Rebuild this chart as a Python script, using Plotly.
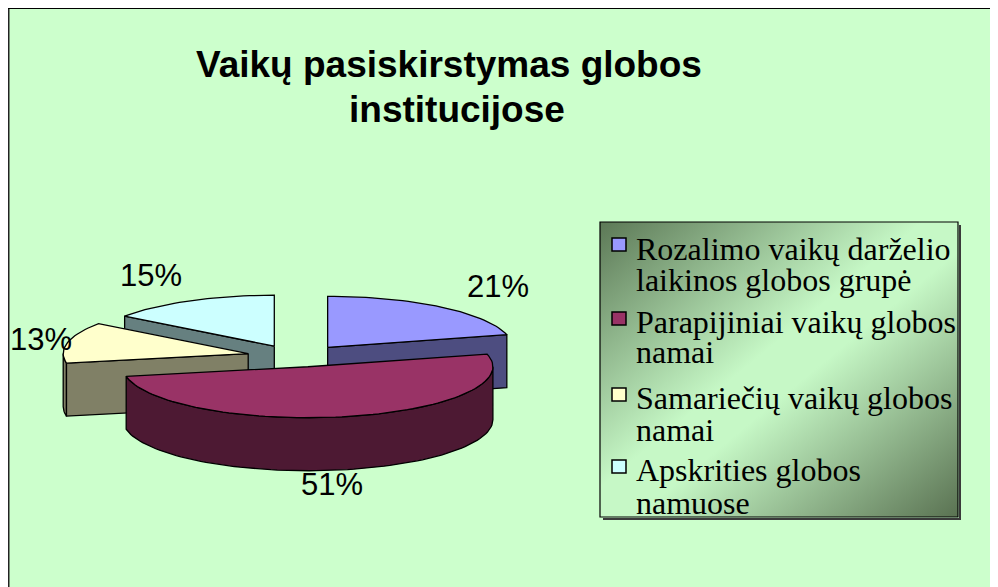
import math
import base64
import plotly.graph_objects as go

# ---------------- data ----------------
categories = [
    "Rozalimo vaikų darželio laikinos globos grupė",
    "Parapijiniai vaikų globos namai",
    "Samariečių vaikų globos namai",
    "Apskrities globos namuose",
]
legend_lines = [
    ["Rozalimo vaikų darželio", "laikinos globos grupė"],
    ["Parapijiniai vaikų globos", "namai"],
    ["Samariečių vaikų globos", "namai"],
    ["Apskrities globos", "namuose"],
]
values = [21, 51, 13, 15]
title_lines = ["Vaikų pasiskirstymas globos", "institucijose"]

# ---------------- style ----------------
TOP_COLORS = ["#9999FF", "#993366", "#FFFFCC", "#CCFFFF"]
SIDE_COLORS = ["#4D4D80", "#4D1933", "#808066", "#668080"]
BG = "#CCFFCC"

# pseudo-3D pie geometry (pixel units of the page)
CX, CY = 297, 356
RX, RY = 185, 51
DEPTH = 53
EX, EY = 50, 11           # explosion offsets
LABEL_KX = [1.5, 0.6, 1.15, 1.47]
LABEL_KY = [1.5, 1.3, 1.3, 1.55]

PAGE_W, PAGE_H = 998, 587
OFF = 8  # page body margin
W, HGT = PAGE_W - OFF, PAGE_H - OFF

fig = go.Figure()

total = float(sum(values))
bounds = []
acc = 0.0
for v in values:
    a0 = acc / total * 360.0
    acc += v
    a1 = acc / total * 360.0
    bounds.append((a0, a1))


def arc(ax, ay, a0, a1, dy=0.0):
    n = max(2, int(abs(a1 - a0) / 2) + 1)
    pts = []
    for k in range(n + 1):
        t = math.radians(a0 + (a1 - a0) * k / n)
        pts.append((ax + RX * math.sin(t), ay - RY * math.cos(t) + dy))
    return pts


def add_poly(pts, color, name):
    xs = [p[0] for p in pts] + [pts[0][0]]
    ys = [p[1] for p in pts] + [pts[0][1]]
    fig.add_trace(go.Scatter(
        x=xs, y=ys, mode="lines", fill="toself", fillcolor=color,
        line=dict(color="black", width=1.3), hoverinfo="skip",
        showlegend=False, name=name))


def rim(ax, ay, a):
    t = math.radians(a)
    return (ax + RX * math.sin(t), ay - RY * math.cos(t))


mids = [(a0 + a1) / 2 for a0, a1 in bounds]
order = sorted(range(len(values)), key=lambda i: -math.cos(math.radians(mids[i])))

apexes = []
for i in range(len(values)):
    m = math.radians(mids[i])
    apexes.append((CX + EX * math.sin(m), CY - EY * math.cos(m)))

for i in order:
    a0, a1 = bounds[i]
    ax, ay = apexes[i]
    name = categories[i]
    # outer wall (front half only)
    w0, w1 = max(a0, 90.0), min(a1, 270.0)
    if w1 > w0:
        top = arc(ax, ay, w0, w1)
        bot = arc(ax, ay, w1, w0, dy=DEPTH)
        add_poly(top + bot, SIDE_COLORS[i], name)
    # start cut face
    if math.sin(math.radians(a0)) < -1e-6:
        rx_, ry_ = rim(ax, ay, a0)
        add_poly([(ax, ay), (rx_, ry_), (rx_, ry_ + DEPTH), (ax, ay + DEPTH)], SIDE_COLORS[i], name)
    # end cut face
    if math.sin(math.radians(a1)) > 1e-6:
        rx_, ry_ = rim(ax, ay, a1)
        add_poly([(ax, ay), (rx_, ry_), (rx_, ry_ + DEPTH), (ax, ay + DEPTH)], SIDE_COLORS[i], name)
    # top face
    add_poly([(ax, ay)] + arc(ax, ay, a0, a1), TOP_COLORS[i], name)

annotations = []
# percentage labels
for i, v in enumerate(values):
    m = math.radians(mids[i])
    ax, ay = apexes[i]
    lx = ax + math.sin(m) * LABEL_KX[i] * RX
    ly = ay - math.cos(m) * LABEL_KY[i] * RY
    if math.cos(m) < 0:
        ly += DEPTH
    annotations.append(dict(
        x=lx, y=ly, xref="x", yref="y", text=f"{v}%", showarrow=False,
        xanchor="center", yanchor="middle",
        font=dict(family="Liberation Sans, Arial, sans-serif", size=31, color="black")))

# title
title_pos = [(449, 64), (457, 109)]
for (tx, ty), line in zip(title_pos, title_lines):
    annotations.append(dict(
        x=tx, y=ty, xref="x", yref="y", text=f"<b>{line}</b>", showarrow=False,
        xanchor="center", yanchor="middle",
        font=dict(family="Liberation Sans, Arial, sans-serif", size=37, color="black")))

# legend (manual, to match spacing)
LEG_X0, LEG_Y0, LEG_X1, LEG_Y1 = 600, 222, 958, 517
line_centers = [[248.5, 279.5], [321.5, 351.5], [397.5, 430], [469.5, 502.5]]
square_tops = [238, 312, 388, 460]
shapes = []
for i, lines in enumerate(legend_lines):
    for ln, yc in zip(lines, line_centers[i]):
        annotations.append(dict(
            x=634, y=yc, xref="x", yref="y", text=ln, showarrow=False,
            xanchor="left", yanchor="middle",
            font=dict(family="Liberation Serif, Times New Roman, serif", size=32, color="black")))
    shapes.append(dict(type="rect", xref="x", yref="y", x0=612, x1=626,
                       y0=square_tops[i], y1=square_tops[i] + 13,
                       fillcolor=TOP_COLORS[i], line=dict(color="black", width=1.5)))

# legend box border + shadow
shapes.append(dict(type="path", xref="x", yref="y",
                   path=f"M {LEG_X1+2} {LEG_Y0+3} L {LEG_X1+2} {LEG_Y1+2} L {LEG_X0+3} {LEG_Y1+2}",
                   line=dict(color="#3a3a3a", width=2)))
shapes.append(dict(type="rect", xref="x", yref="y", x0=LEG_X0, x1=LEG_X1, y0=LEG_Y0, y1=LEG_Y1,
                   line=dict(color="black", width=1.2), fillcolor="rgba(0,0,0,0)"))

# outer chart border (left and top visible)
shapes.append(dict(type="line", xref="paper", yref="paper", x0=0, x1=0, y0=0, y1=1,
                   line=dict(color="#222", width=3)))
shapes.append(dict(type="line", xref="paper", yref="paper", x0=0, x1=1, y0=1, y1=1,
                   line=dict(color="black", width=2)))

# gradient background of the legend
lw, lh = LEG_X1 - LEG_X0, LEG_Y1 - LEG_Y0
svg = (f"<svg xmlns='http://www.w3.org/2000/svg' width='{lw}' height='{lh}'>"
       "<defs><linearGradient id='g' x1='0' y1='0' x2='1' y2='1'>"
       "<stop offset='0' stop-color='#5C7856'/>"
       "<stop offset='0.45' stop-color='#C6F8C6'/>"
       "<stop offset='0.55' stop-color='#C6F8C6'/>"
       "<stop offset='1' stop-color='#5A7252'/>"
       "</linearGradient></defs>"
       f"<rect width='{lw}' height='{lh}' fill='url(#g)'/></svg>")
src = "data:image/svg+xml;base64," + base64.b64encode(svg.encode()).decode()

fig.update_layout(
    width=W, height=HGT,
    margin=dict(l=0, r=0, t=0, b=0, pad=0),
    paper_bgcolor=BG, plot_bgcolor=BG,
    showlegend=False,
    xaxis=dict(range=[OFF, PAGE_W], visible=False, fixedrange=True),
    yaxis=dict(range=[PAGE_H, OFF], visible=False, fixedrange=True),
    annotations=annotations, shapes=shapes,
    images=[dict(source=src, xref="x", yref="y", x=LEG_X0, y=LEG_Y0,
                 sizex=lw, sizey=lh, sizing="stretch", xanchor="left",
                 yanchor="top", layer="below")],
)

fig.write_html(
    "out.html",
    post_script="document.documentElement.style.overflow='hidden';document.body.style.overflow='hidden';",
)
